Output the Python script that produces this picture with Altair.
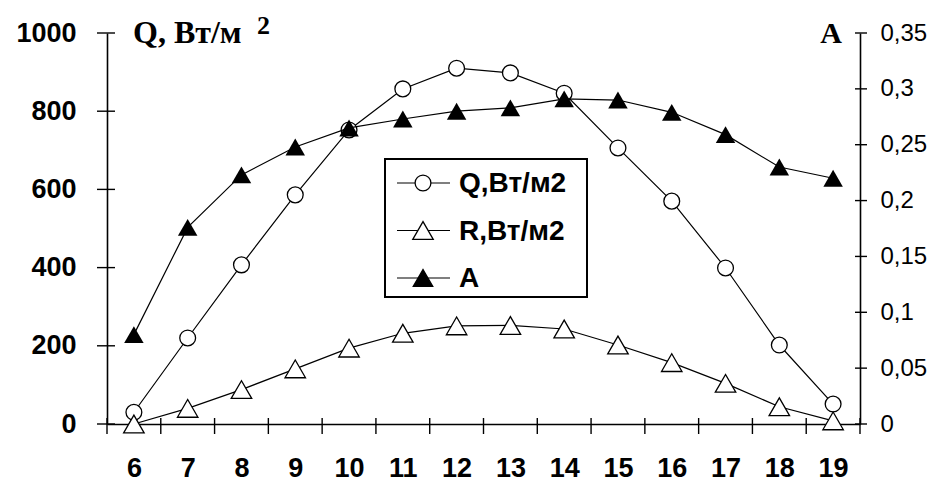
import altair as alt
import pandas as pd

# Hours of the day
hours = list(range(6, 20))
# Incoming flux Q and reflected flux R, W/m2 (left axis)
q_vals = [30, 220, 407, 586, 752, 857, 910, 898, 846, 706, 570, 399, 202, 51]
r_vals = [0, 40, 88, 141, 194, 232, 251, 252, 243, 202, 157, 104, 44, 8]
# Albedo A (right axis)
a_vals = [0.080, 0.176, 0.223, 0.248, 0.265, 0.273, 0.280, 0.283, 0.291,
          0.290, 0.279, 0.259, 0.230, 0.220]
series_names = ["Q,Вт/м2", "R,Вт/м2", "A"]
left_ticks = [0, 200, 400, 600, 800, 1000]
right_ticks = [0, 0.05, 0.1, 0.15, 0.2, 0.25, 0.3, 0.35]

W, H = 753, 391
SANS = "Liberation Sans"
SERIF = "Liberation Serif"

flux = pd.DataFrame({
    "hour": hours * 2,
    "value": q_vals + r_vals,
    "series": [series_names[0]] * len(hours) + [series_names[1]] * len(hours),
})
albedo = pd.DataFrame({"hour": hours, "value": a_vals})

x_scale = alt.Scale(domain=[hours[0] - 0.5, hours[-1] + 0.5], nice=False, zero=False)
x_axis = alt.Axis(values=hours, ticks=False, grid=False, title=None,
                  labelFont=SANS, labelFontSize=27, labelFontWeight="bold",
                  labelPadding=31, labelFlush=False, labelOverlap=False,
                  domainColor="black", domainWidth=1.6, labelColor="black")
left_scale = alt.Scale(domain=[0, 1000], nice=False)
left_axis = alt.Axis(values=left_ticks, ticks=False, grid=False, title=None,
                     orient="left", format="d", labelFont=SANS, labelFontSize=27,
                     labelFontWeight="bold", labelPadding=31, labelFlush=False,
                     domainColor="black", domainWidth=1.6, labelColor="black")
right_scale = alt.Scale(domain=[0, 0.35], nice=False)
right_axis = alt.Axis(values=right_ticks, ticks=False, grid=False, title=None,
                      orient="right", labelFont=SANS, labelFontSize=24,
                      labelPadding=20, labelFlush=False,
                      labelExpr="replace(format(datum.value, '.2~f'), '.', ',')",
                      domainColor="black", domainWidth=1.6, labelColor="black")

X = alt.X("hour:Q", scale=x_scale, axis=x_axis)

# Q and R on the left axis
flux_lines = alt.Chart(flux).mark_line(color="black", strokeWidth=1.2).encode(
    x=X,
    y=alt.Y("value:Q", scale=left_scale, axis=left_axis),
    detail="series:N",
)
flux_points = alt.Chart(flux).mark_point(
    filled=True, fill="white", stroke="black", strokeWidth=1.3, opacity=1
).encode(
    x=X,
    y=alt.Y("value:Q", scale=left_scale, axis=left_axis),
    shape=alt.Shape("series:N",
                    scale=alt.Scale(domain=series_names[:2],
                                    range=["circle", "triangle-up"]),
                    legend=None),
    size=alt.Size("series:N",
                  scale=alt.Scale(domain=series_names[:2], range=[250, 420]),
                  legend=None),
)

# crossing tick marks on the left axis
left_tick_marks = alt.Chart(pd.DataFrame({"v": left_ticks})).mark_rule(
    color="black", strokeWidth=1.4
).encode(
    y=alt.Y("v:Q", scale=left_scale, axis=left_axis),
    x=alt.value(-10), x2=alt.value(8),
)

# crossing tick marks between hour categories on the x axis
bounds = [h - 0.5 for h in hours] + [hours[-1] + 0.5]
x_tick_marks = alt.Chart(pd.DataFrame({"b": bounds})).mark_rule(
    color="black", strokeWidth=1.4
).encode(
    x=alt.X("b:Q", scale=x_scale, axis=x_axis),
    y=alt.value(H - 6), y2=alt.value(H + 10),
)

one = pd.DataFrame({"k": [0]})
q_title = alt.Chart(one).mark_text(
    text="Q, Вт/м", font=SERIF, fontWeight="bold", fontSize=32,
    align="left", baseline="alphabetic", color="black"
).encode(x=alt.value(26), y=alt.value(10))
q_title_sup = alt.Chart(one).mark_text(
    text="2", font=SERIF, fontWeight="bold", fontSize=26,
    align="left", baseline="alphabetic", color="black"
).encode(x=alt.value(150), y=alt.value(1))

# legend box drawn inside the plot
legend_box = alt.Chart(one).mark_rect(
    fill="white", stroke="black", strokeWidth=2
).encode(x=alt.value(278), x2=alt.value(480), y=alt.value(126), y2=alt.value(264))

legend_layers = [legend_box]
marker_styles = [("circle", "white", 250), ("triangle-up", "white", 420),
                 ("triangle-up", "black", 380)]
for i, name in enumerate(series_names):
    ly = 150 + i * 47.5
    shape, fill, size = marker_styles[i]
    row = pd.DataFrame({"label": [name]})
    legend_layers.append(
        alt.Chart(row).mark_rule(color="black", strokeWidth=1.2).encode(
            x=alt.value(290), x2=alt.value(343), y=alt.value(ly)))
    legend_layers.append(
        alt.Chart(row).mark_point(shape=shape, filled=True, fill=fill,
                                  stroke="black", strokeWidth=1.3, size=size,
                                  opacity=1).encode(
            x=alt.value(316), y=alt.value(ly)))
    legend_layers.append(
        alt.Chart(row).mark_text(font=SANS, fontWeight="bold", fontSize=28,
                                 align="left", baseline="middle",
                                 color="black").encode(
            x=alt.value(352), y=alt.value(ly + 1), text="label:N"))

left_group = alt.layer(flux_lines, flux_points, left_tick_marks, x_tick_marks,
                       q_title, q_title_sup, *legend_layers)

# A on the right axis
albedo_line = alt.Chart(albedo).mark_line(color="black", strokeWidth=1.2).encode(
    x=X,
    y=alt.Y("value:Q", scale=right_scale, axis=right_axis),
)
albedo_points = alt.Chart(albedo).mark_point(
    shape="triangle-up", filled=True, color="black", size=380, opacity=1
).encode(
    x=X,
    y=alt.Y("value:Q", scale=right_scale, axis=right_axis),
)
right_tick_marks = alt.Chart(pd.DataFrame({"v": right_ticks})).mark_rule(
    color="black", strokeWidth=1.4
).encode(
    y=alt.Y("v:Q", scale=right_scale, axis=right_axis),
    x=alt.value(W - 5), x2=alt.value(W + 7),
)
a_title = alt.Chart(one).mark_text(
    text="A", font=SERIF, fontWeight="bold", fontSize=30,
    align="right", baseline="alphabetic", color="black"
).encode(x=alt.value(735), y=alt.value(10))

right_group = alt.layer(albedo_line, albedo_points, right_tick_marks, a_title)

chart = alt.layer(left_group, right_group).resolve_scale(
    y="independent"
).properties(
    width=W, height=H,
    autosize=alt.AutoSizeParams(type="none"),
    padding={"left": 107, "top": 33, "right": 73, "bottom": 57},
    background="white",
).configure_view(stroke=None)

chart.save("out.html", embed_options={"renderer": "svg", "actions": False})
